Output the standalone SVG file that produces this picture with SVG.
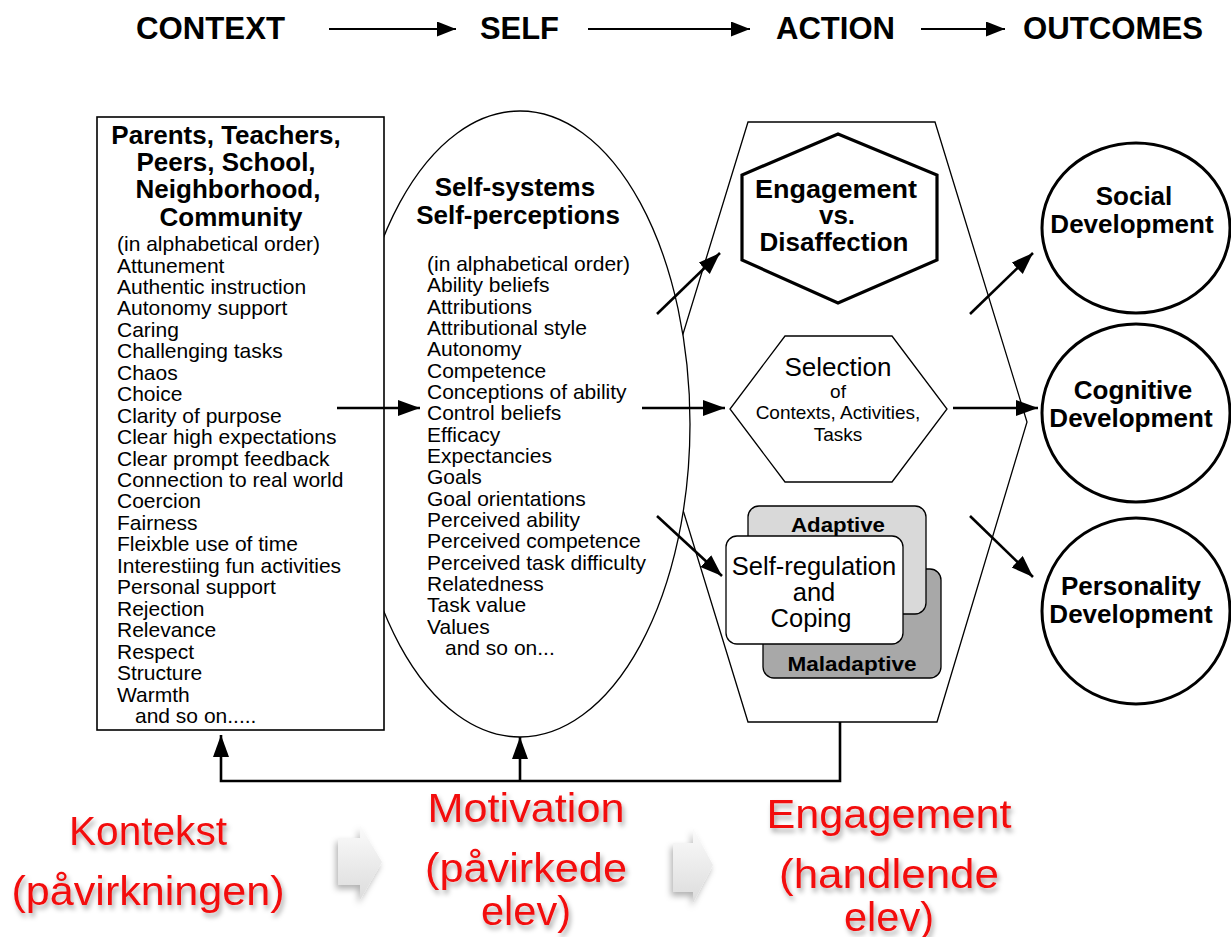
<svg xmlns="http://www.w3.org/2000/svg" width="1231" height="937" viewBox="0 0 1231 937">
<style>
text{font-family:"Liberation Sans",Arial,Helvetica,sans-serif;fill:#000}
.hdr{font-size:32px;font-weight:bold}
.b{font-weight:bold;font-size:26px;text-anchor:middle}
.li{font-size:21px}
.red{font-size:40px;fill:#f21010;text-anchor:middle;filter:url(#sh)}
.thin{fill:#fff;stroke:#000;stroke-width:1.3}
.conn{stroke:#000;stroke-width:2.6;fill:none}
</style>
<defs>
<marker id="ah" markerUnits="userSpaceOnUse" markerWidth="24" markerHeight="18" refX="22" refY="8" orient="auto"><path d="M0,0 L22,8 L0,16 z" fill="#000"/></marker>
<marker id="ahs" markerUnits="userSpaceOnUse" markerWidth="20" markerHeight="16" refX="19" refY="7.5" orient="auto"><path d="M0,0 L19,7.5 L0,15 z" fill="#000"/></marker>
<linearGradient id="ga" x1="0" y1="0" x2="0" y2="1"><stop offset="0" stop-color="#fbfbfb"/><stop offset="1" stop-color="#dcdcdc"/></linearGradient>
<filter id="sh" x="-20%" y="-20%" width="140%" height="160%"><feDropShadow dx="2" dy="4" stdDeviation="2.5" flood-color="#000" flood-opacity="0.35"/></filter>
<filter id="sh2" x="-40%" y="-20%" width="180%" height="150%"><feDropShadow dx="-2" dy="4" stdDeviation="3" flood-color="#000" flood-opacity="0.3"/></filter>
</defs>

<g id="header">
<text class="hdr" x="136" y="39" textLength="149" lengthAdjust="spacingAndGlyphs">CONTEXT</text>
<text class="hdr" x="480" y="39" textLength="79" lengthAdjust="spacingAndGlyphs">SELF</text>
<text class="hdr" x="776" y="39" textLength="119" lengthAdjust="spacingAndGlyphs">ACTION</text>
<text class="hdr" x="1023" y="39" textLength="180" lengthAdjust="spacingAndGlyphs">OUTCOMES</text>
<g stroke="#000" stroke-width="2.2" fill="none">
<line x1="329" y1="29" x2="456" y2="29" marker-end="url(#ahs)"/>
<line x1="588" y1="29" x2="750" y2="29" marker-end="url(#ahs)"/>
<line x1="921" y1="29" x2="1005" y2="29" marker-end="url(#ahs)"/>
</g>
</g>

<g id="action">
<polygon class="thin" points="748,122 935,122 1027,422 937,722 748,722 656,422"/>
</g>

<g id="engagement">
<polygon points="838,134 937,175 937,260 838,303 742,260 742,175" fill="#fff" stroke="#000" stroke-width="3.2"/>
<text class="b" x="836" y="198" textLength="162" lengthAdjust="spacingAndGlyphs">Engagement</text>
<text class="b" x="837" y="224">vs.</text>
<text class="b" x="834" y="251">Disaffection</text>
</g>

<g id="selection">
<polygon class="thin" points="785,336 892,336 947,409 892,482 785,482 730,409"/>
<text x="838" y="376" font-size="26" text-anchor="middle">Selection</text>
<text x="838" y="398" font-size="19" text-anchor="middle">of</text>
<text x="838" y="419" font-size="19" text-anchor="middle">Contexts, Activities,</text>
<text x="838" y="441" font-size="19" text-anchor="middle">Tasks</text>
</g>

<g id="selfregulation">
<rect x="763" y="569" width="178" height="109" rx="11" fill="#a8a8a8" stroke="#000" stroke-width="1.3"/>
<rect x="748" y="506" width="178" height="108" rx="11" fill="#d9d9d9" stroke="#000" stroke-width="1.3"/>
<text x="838" y="532" font-size="21" font-weight="bold" text-anchor="middle" textLength="94" lengthAdjust="spacingAndGlyphs">Adaptive</text>
<text x="852" y="671" font-size="21" font-weight="bold" text-anchor="middle" textLength="129" lengthAdjust="spacingAndGlyphs">Maladaptive</text>
<rect x="726" y="536" width="177" height="108" rx="11" fill="#fff" stroke="#000" stroke-width="1.3"/>
<text x="814" y="575" font-size="25.5" text-anchor="middle">Self-regulation</text>
<text x="814" y="601" font-size="25.5" text-anchor="middle">and</text>
<text x="811" y="627" font-size="25.5" text-anchor="middle">Coping</text>
</g>

<g id="self">
<ellipse cx="520" cy="424" rx="170" ry="313" fill="#fff" stroke="#000" stroke-width="1.3"/>
<text class="b" x="515" y="196" font-size="27">Self-systems</text>
<text class="b" x="518" y="224" font-size="27">Self-perceptions</text>
<g class="li">
<text x="427" y="271">(in alphabetical order)</text>
<text x="427" y="292.3">Ability beliefs</text>
<text x="427" y="313.7">Attributions</text>
<text x="427" y="335">Attributional style</text>
<text x="427" y="356.3">Autonomy</text>
<text x="427" y="377.7">Competence</text>
<text x="427" y="399">Conceptions of ability</text>
<text x="427" y="420.3">Control beliefs</text>
<text x="427" y="441.7">Efficacy</text>
<text x="427" y="463">Expectancies</text>
<text x="427" y="484.3">Goals</text>
<text x="427" y="505.7">Goal orientations</text>
<text x="427" y="527">Perceived ability</text>
<text x="427" y="548.3">Perceived competence</text>
<text x="427" y="569.7">Perceived task difficulty</text>
<text x="427" y="591">Relatedness</text>
<text x="427" y="612.3">Task value</text>
<text x="427" y="633.7">Values</text>
<text x="445" y="655">and so on...</text>
</g>
</g>

<g id="context">
<rect x="97" y="117" width="287" height="613" fill="#fff" stroke="#000" stroke-width="1.6"/>
<text class="b" x="226" y="144" font-size="26.5">Parents, Teachers,</text>
<text class="b" x="226" y="171" font-size="26.5">Peers, School,</text>
<text class="b" x="228" y="198" font-size="26.5">Neighborhood,</text>
<text class="b" x="231" y="226" font-size="26.5">Community</text>
<g class="li">
<text x="117" y="251">(in alphabetical order)</text>
<text x="117" y="272.5">Attunement</text>
<text x="117" y="293.9">Authentic instruction</text>
<text x="117" y="315.4">Autonomy support</text>
<text x="117" y="336.8">Caring</text>
<text x="117" y="358.3">Challenging tasks</text>
<text x="117" y="379.7">Chaos</text>
<text x="117" y="401.2">Choice</text>
<text x="117" y="422.6">Clarity of purpose</text>
<text x="117" y="444.1">Clear high expectations</text>
<text x="117" y="465.5">Clear prompt feedback</text>
<text x="117" y="487">Connection to real world</text>
<text x="117" y="508.4">Coercion</text>
<text x="117" y="529.9">Fairness</text>
<text x="117" y="551.3">Fleixble use of time</text>
<text x="117" y="572.8">Interestiing fun activities</text>
<text x="117" y="594.2">Personal support</text>
<text x="117" y="615.7">Rejection</text>
<text x="117" y="637.1">Relevance</text>
<text x="117" y="658.6">Respect</text>
<text x="117" y="680">Structure</text>
<text x="117" y="701.5">Warmth</text>
<text x="135" y="723">and so on.....</text>
</g>
</g>

<g id="social">
<ellipse cx="1136" cy="228" rx="94" ry="85" fill="#fff" stroke="#000" stroke-width="3"/>
<text class="b" x="1134" y="205" font-size="26.5">Social</text>
<text class="b" x="1132" y="233" font-size="26.5">Development</text>
</g>
<g id="cognitive">
<ellipse cx="1136" cy="413" rx="94" ry="89" fill="#fff" stroke="#000" stroke-width="3"/>
<text class="b" x="1133" y="399" font-size="26.5">Cognitive</text>
<text class="b" x="1131" y="427" font-size="26.5">Development</text>
</g>
<g id="personality">
<ellipse cx="1136" cy="611" rx="94" ry="93" fill="#fff" stroke="#000" stroke-width="3"/>
<text class="b" x="1131" y="595" font-size="26.5">Personality</text>
<text class="b" x="1131" y="623" font-size="26.5">Development</text>
</g>

<g id="connectors">
<line class="conn" x1="337" y1="408" x2="420" y2="408" marker-end="url(#ah)"/>
<line class="conn" x1="657" y1="314" x2="720" y2="253" marker-end="url(#ah)"/>
<line class="conn" x1="642" y1="408" x2="725" y2="408" marker-end="url(#ah)"/>
<line class="conn" x1="657" y1="516" x2="722" y2="576" marker-end="url(#ah)"/>
<line class="conn" x1="970" y1="314" x2="1033" y2="253" marker-end="url(#ah)"/>
<line class="conn" x1="953" y1="408" x2="1038" y2="408" marker-end="url(#ah)"/>
<line class="conn" x1="970" y1="516" x2="1033" y2="577" marker-end="url(#ah)"/>
<polyline class="conn" points="840,722 840,781 221,781 221,735" marker-end="url(#ah)"/>
<line class="conn" x1="520" y1="781" x2="520" y2="737" marker-end="url(#ah)"/>
</g>

<g id="bottom">
<text class="red" x="148" y="845" textLength="158" lengthAdjust="spacingAndGlyphs">Kontekst</text>
<text class="red" x="148" y="905" textLength="273" lengthAdjust="spacingAndGlyphs">(påvirkningen)</text>
<text class="red" x="526" y="822" textLength="197" lengthAdjust="spacingAndGlyphs">Motivation</text>
<text class="red" x="526" y="882" textLength="202" lengthAdjust="spacingAndGlyphs">(påvirkede</text>
<text class="red" x="526" y="925" textLength="90" lengthAdjust="spacingAndGlyphs">elev)</text>
<text class="red" x="889" y="828" textLength="245" lengthAdjust="spacingAndGlyphs">Engagement</text>
<text class="red" x="889" y="888" textLength="220" lengthAdjust="spacingAndGlyphs">(handlende</text>
<text class="red" x="889" y="931" textLength="90" lengthAdjust="spacingAndGlyphs">elev)</text>
<path d="M338,838 L360,838 L360,825 L382,862 L360,900 L360,885 L338,885 z" fill="url(#ga)" filter="url(#sh2)"/>
<path d="M673,843 L693,843 L693,828 L713,865 L693,903 L693,892 L673,892 z" fill="url(#ga)" filter="url(#sh2)"/>
</g>
</svg>
